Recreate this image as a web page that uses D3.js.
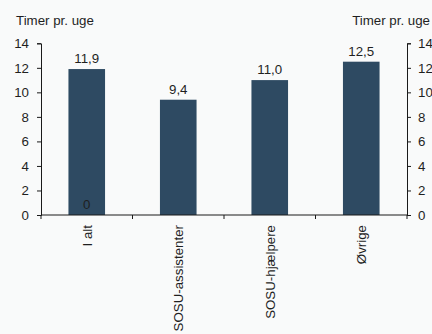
<!DOCTYPE html>
<html>
<head>
<meta charset="utf-8">
<script src="https://cdn.jsdelivr.net/npm/d3@7"></script>
<style>
html,body{margin:0;padding:0;background:#f9fafa;}
svg{display:block;font-family:"Liberation Sans",Arial,sans-serif;}
</style>
</head>
<body>
<svg id="chart" width="432" height="334"></svg>
<script>
const categories = ["I alt", "SOSU-assistenter", "SOSU-hjælpere", "Øvrige"];
const values = [11.9, 9.4, 11.0, 12.5];
const secondaryLabels = [0, null, null, null];
const yTicks = [0, 2, 4, 6, 8, 10, 12, 14];
const axisTitle = "Timer pr. uge";

(function () {
const svg = d3.select("#chart");
const W = 432, H = 334;
const mLeft = 41, mRight = 407, mTop = 43.3, mBottom = 215;
const fs = 13.3;

svg.append("rect").attr("width", W).attr("height", H).attr("fill", "#f9fafa");

const x = d3.scaleBand().domain(categories).range([mLeft, mRight])
  .paddingInner(0.6).paddingOuter(0.3);
const y = d3.scaleLinear().domain([0, 14]).range([mBottom, mTop]);

const fmt = v => d3.format(".1f")(v).replace(".", ",");

// bars
svg.append("g").selectAll("rect").data(values).join("rect")
  .attr("x", (d, i) => x(categories[i]))
  .attr("width", x.bandwidth())
  .attr("y", d => y(d))
  .attr("height", d => y(0) - y(d))
  .attr("fill", "#2e4a62");

// value labels
svg.append("g").selectAll("text").data(values).join("text")
  .attr("x", (d, i) => x(categories[i]) + x.bandwidth() / 2)
  .attr("y", d => y(d) - 6)
  .attr("text-anchor", "middle")
  .attr("font-size", fs)
  .attr("fill", "#1f1f1f")
  .text(d => fmt(d));

// secondary labels (zero series)
svg.append("g").selectAll("text").data(secondaryLabels).join("text")
  .attr("x", (d, i) => x(categories[i]) + x.bandwidth() / 2)
  .attr("y", d => y(d || 0) - 6)
  .attr("text-anchor", "middle")
  .attr("font-size", fs)
  .attr("fill", "#1f1f1f")
  .text(d => d === null ? "" : String(d));

const styleAxis = g => {
  g.selectAll("path,line").attr("stroke", "#1a1a1a").attr("stroke-width", 1);
  g.selectAll("text").attr("font-size", fs).attr("fill", "#1f1f1f")
    .attr("font-family", '"Liberation Sans",Arial,sans-serif');
};

// left axis
svg.append("g").attr("transform", `translate(${mLeft},0)`)
  .call(d3.axisLeft(y).tickValues(yTicks).tickFormat(d3.format("d"))
    .tickSizeOuter(0).tickSize(4).tickPadding(8))
  .call(styleAxis);

// right axis
svg.append("g").attr("transform", `translate(${mRight},0)`)
  .call(d3.axisRight(y).tickValues(yTicks).tickFormat(d3.format("d"))
    .tickSizeOuter(0).tickSize(4).tickPadding(7))
  .call(styleAxis);

// x axis
const xg = svg.append("g").attr("transform", `translate(0,${mBottom})`);
xg.append("line").attr("x1", mLeft).attr("x2", mRight).attr("y1", 0).attr("y2", 0)
  .attr("stroke", "#1a1a1a");
const step = x.step();
const sepTicks = d3.range(categories.length + 1).map(i => mLeft + i * step);
xg.selectAll("line.sep").data(sepTicks).join("line").attr("class", "sep")
  .attr("x1", d => d).attr("x2", d => d).attr("y1", 0).attr("y2", 4)
  .attr("stroke", "#1a1a1a");
xg.selectAll("text").data(categories).join("text")
  .attr("transform", d => `translate(${x(d) + x.bandwidth() / 2},10) rotate(-90)`)
  .attr("dy", "0.38em")
  .attr("text-anchor", "end")
  .attr("font-size", fs)
  .attr("fill", "#1f1f1f")
  .text(d => d);

// axis titles
svg.append("text").attr("x", 16).attr("y", 25).attr("font-size", fs)
  .attr("fill", "#1f1f1f").text(axisTitle);
svg.append("text").attr("x", 430).attr("y", 25).attr("text-anchor", "end")
  .attr("font-size", fs).attr("fill", "#1f1f1f").text(axisTitle);
})();
</script>
</body>
</html>
